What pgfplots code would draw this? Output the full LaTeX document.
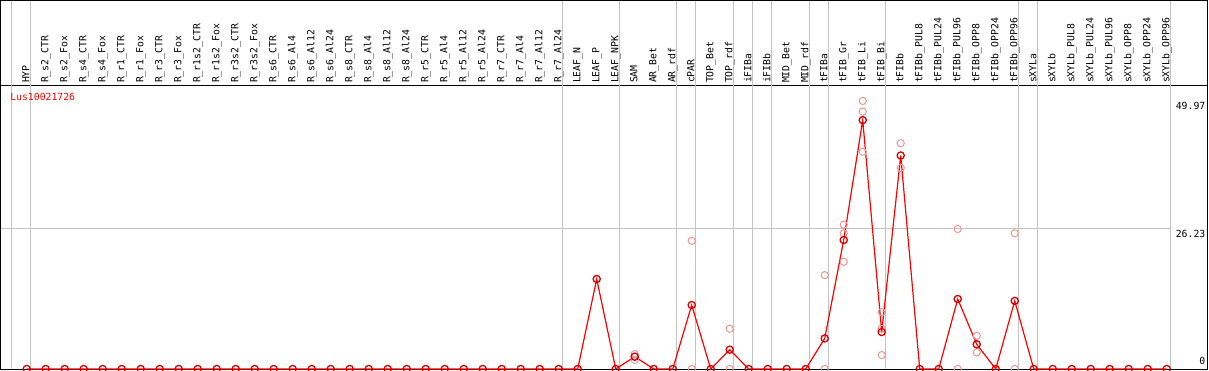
\documentclass[border=0pt]{standalone}
\usepackage{pgfplots}
\pgfplotsset{compat=1.18}
\usepackage{fontspec}
\newfontfamily\mono{DejaVu Sans Mono}
\definecolor{pale}{RGB}{240,150,150}
\definecolor{gridg}{RGB}{195,195,195}
\definecolor{mainred}{RGB}{215,0,0}
\pgfplotstableread{
x y
1 0
2 0
3 0
4 0
5 0
6 0
7 0
8 0
9 0
10 0
11 0
12 0
13 0
14 0
15 0
16 0
17 0
18 0
19 0
20 0
21 0
22 0
23 0
24 0
25 0
26 0
27 0
28 0
29 0
30 0
31 16.78
32 0
33 2.3
34 0
35 0
36 11.93
37 0
38 3.6
39 0
40 0
41 0
42 0
43 5.7
44 24.05
45 46.4
46 6.9
47 39.8
48 0
49 0
50 13.05
51 4.6
52 0
53 12.7
54 0
55 0
56 0
57 0
58 0
59 0
60 0
61 0
}\meantable
\pgfplotstableread{
x y
33 2.8
33 2.3
33 1.7
36 23.9
36 0
38 7.5
38 0
43 17.5
43 0
44 26.9
44 25.3
44 20.0
45 49.97
45 48.0
45 40.5
46 10.6
46 7.5
46 2.6
47 42.1
47 37.5
50 26.1
50 0
51 6.2
51 3.1
53 25.3
53 0
}\reptable
\begin{document}
\begin{tikzpicture}
\begin{axis}[
  scale only axis, width=1206pt, height=283.3pt,
  xmin=-0.353, xmax=63.12, ymin=0, ymax=52.82,
  clip=false,
  axis line style={black, line width=1pt},
  tick style={draw=none}, major tick length=0pt,
  xtick={1,...,61},
  xticklabels={HYP,R\_s2\_CTR,R\_s2\_Fox,R\_s4\_CTR,R\_s4\_Fox,R\_r1\_CTR,R\_r1\_Fox,R\_r3\_CTR,R\_r3\_Fox,R\_r1s2\_CTR,R\_r1s2\_Fox,R\_r3s2\_CTR,R\_r3s2\_Fox,R\_s6\_CTR,R\_s6\_Al4,R\_s6\_Al12,R\_s6\_Al24,R\_s8\_CTR,R\_s8\_Al4,R\_s8\_Al12,R\_s8\_Al24,R\_r5\_CTR,R\_r5\_Al4,R\_r5\_Al12,R\_r5\_Al24,R\_r7\_CTR,R\_r7\_Al4,R\_r7\_Al12,R\_r7\_Al24,LEAF\_N,LEAF\_P,LEAF\_NPK,SAM,AR\_Bet,AR\_rdf,cPAR,TOP\_Bet,TOP\_rdf,iFIBa,iFIBb,MID\_Bet,MID\_rdf,tFIBa,tFIB\_Gr,tFIB\_Li,tFIB\_Bi,tFIBb,tFIBb\_PUL8,tFIBb\_PUL24,tFIBb\_PUL96,tFIBb\_OPP8,tFIBb\_OPP24,tFIBb\_OPP96,sXYLa,sXYLb,sXYLb\_PUL8,sXYLb\_PUL24,sXYLb\_PUL96,sXYLb\_OPP8,sXYLb\_OPP24,sXYLb\_OPP96},
  xticklabel pos=upper,
  xticklabel shift=2.5pt,
  xticklabel style={rotate=90, anchor=west, inner sep=0pt, text height=7.5pt, text depth=2pt, font=\mono\fontsize{9.8}{11}\selectfont},
  ytick={26.23,49.97},
  yticklabels={26.23,49.97},
  yticklabel pos=right,
  yticklabel shift=0pt,
  yticklabel style={anchor=north east, inner sep=0pt, xshift=-1.5pt, yshift=-1.5pt, font=\mono\fontsize{9.8}{11}\selectfont},
  extra y ticks={0},
  extra y tick labels={0},
  extra y tick style={yticklabel style={anchor=south east, yshift=5.5pt}},
]
% group separators
\pgfplotsinvokeforeach{0.2,1.2,29.2,32.2,35.2,36.2,38.2,39.2,40.2,42.2,43.2,46.2,53.2,54.2,61.2}{
  \draw[gridg, line width=1pt] (axis cs:#1,0) -- (axis cs:#1,68.79);
}
\draw[gridg, line width=1pt] (axis cs:-0.353,26.23) -- (axis cs:61.2,26.23);
\draw[black, line width=1pt] (axis cs:-0.353,0) -- (axis cs:-0.353,68.7) -- (axis cs:63.12,68.7) -- (axis cs:63.12,0);
\node[anchor=base west, inner sep=0pt, text=red, font=\mono\fontsize{9.8}{11}\selectfont] at (rel axis cs:0.0075,0.947) {Lus10021726};
\addplot[only marks, mark=o, mark size=3.6pt, pale, line width=1pt] table[x=x,y=y] {\reptable};
\addplot[red, line width=1.2pt, mark=o, mark size=3.6pt, mark options={mainred, line width=1.3pt}] table[x=x,y=y] {\meantable};
\end{axis}
\pgfresetboundingbox
\useasboundingbox (-1pt,-1pt) rectangle (1208pt,369pt);
\end{tikzpicture}
\end{document}
